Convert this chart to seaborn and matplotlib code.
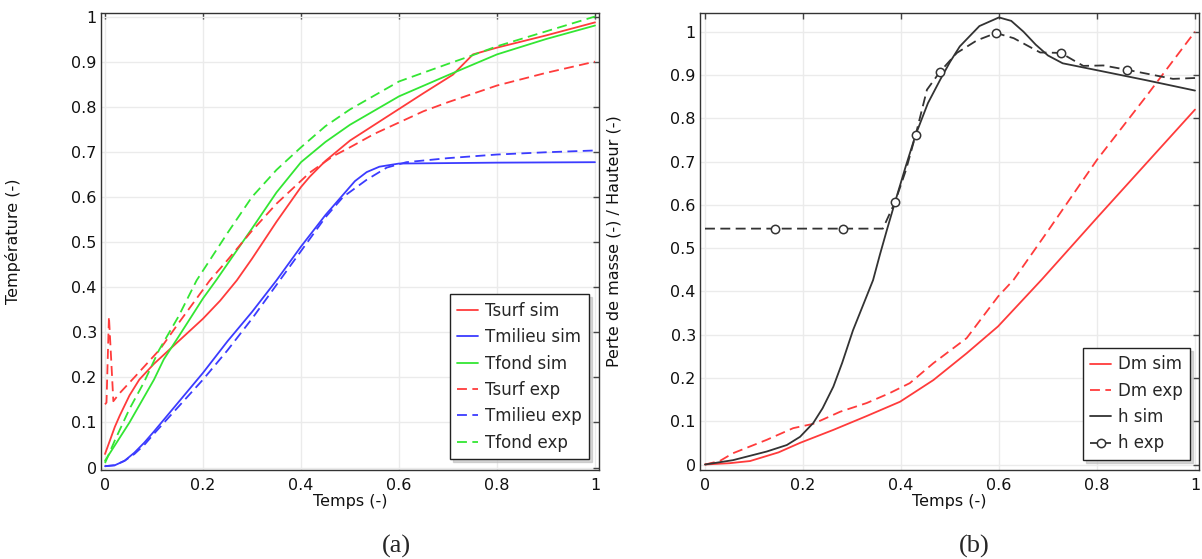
import numpy as np
import pandas as pd
import matplotlib
matplotlib.use("Agg")
import matplotlib.pyplot as plt
from matplotlib.ticker import FixedLocator, FuncFormatter
import seaborn as sns

# ---------------- Panel (a) data ----------------
tsurf_sim_x = [0, 0.01, 0.02, 0.03, 0.05, 0.07, 0.1, 0.12, 0.15, 0.2, 0.235, 0.269, 0.3, 0.35, 0.4, 0.418,
               0.45, 0.5, 0.55, 0.6, 0.65, 0.71, 0.751, 0.8, 0.9, 1.0]
tsurf_sim_y = [0.03, 0.06, 0.09, 0.115, 0.16, 0.195, 0.23, 0.25, 0.28, 0.33, 0.37, 0.415, 0.463, 0.545, 0.622, 0.645,
               0.68, 0.725, 0.76, 0.795, 0.83, 0.871, 0.916, 0.931, 0.958, 0.987]

tsurf_exp_x = [0, 0.003, 0.008, 0.017, 0.03, 0.06, 0.112, 0.15, 0.214, 0.25, 0.3, 0.35, 0.418, 0.465, 0.5,
               0.55, 0.6, 0.65, 0.7, 0.8, 0.9, 1.0]
tsurf_exp_y = [0.14, 0.144, 0.335, 0.147, 0.165, 0.2, 0.262, 0.32, 0.415, 0.46, 0.525, 0.585, 0.654, 0.69, 0.71,
               0.74, 0.765, 0.79, 0.81, 0.847, 0.875, 0.90]

tmil_sim_x = [0, 0.02, 0.04, 0.06, 0.08, 0.1, 0.15, 0.2, 0.25, 0.3, 0.35, 0.4, 0.45, 0.486, 0.51, 0.534,
              0.56, 0.6, 0.7, 0.8, 1.0]
tmil_sim_y = [0.003, 0.005, 0.015, 0.033, 0.055, 0.08, 0.145, 0.21, 0.28, 0.345, 0.415, 0.49, 0.56, 0.605, 0.635,
              0.655, 0.667, 0.674, 0.675, 0.676, 0.677]

tmil_exp_x = [0, 0.02, 0.04, 0.06, 0.08, 0.1, 0.15, 0.2, 0.25, 0.3, 0.35, 0.4, 0.45, 0.486, 0.534, 0.575,
              0.615, 0.7, 0.8, 0.9, 1.0]
tmil_exp_y = [0.003, 0.005, 0.015, 0.03, 0.05, 0.075, 0.135, 0.195, 0.26, 0.33, 0.405, 0.48, 0.555, 0.6, 0.638,
              0.665, 0.677, 0.686, 0.694, 0.699, 0.703]

tfond_sim_x = [0, 0.05, 0.1, 0.12, 0.15, 0.2, 0.228, 0.3, 0.35, 0.4, 0.45, 0.5, 0.6, 0.7, 0.8, 0.9, 1.0]
tfond_sim_y = [0.015, 0.1, 0.195, 0.24, 0.29, 0.375, 0.417, 0.53, 0.61, 0.677, 0.722, 0.76, 0.823, 0.87, 0.916,
               0.95, 0.98]

tfond_exp_x = [0, 0.02, 0.05, 0.08, 0.11, 0.15, 0.187, 0.25, 0.3, 0.35, 0.4, 0.45, 0.5, 0.6, 0.7, 0.75, 0.8,
               0.9, 1.0]
tfond_exp_y = [0.01, 0.06, 0.13, 0.19, 0.26, 0.335, 0.415, 0.52, 0.6, 0.66, 0.71, 0.757, 0.794, 0.856, 0.895,
               0.914, 0.934, 0.967, 1.0]

# ---------------- Panel (b) data ----------------
dm_sim_x = [0, 0.05, 0.092, 0.15, 0.194, 0.262, 0.33, 0.398, 0.466, 0.534, 0.598, 0.687, 0.8, 0.9, 1.0]
dm_sim_y = [0, 0.003, 0.008, 0.028, 0.05, 0.08, 0.112, 0.145, 0.195, 0.257, 0.319, 0.427, 0.57, 0.695, 0.82]

dm_exp_x = [0, 0.03, 0.057, 0.126, 0.18, 0.221, 0.276, 0.33, 0.377, 0.418, 0.466, 0.534, 0.598, 0.63, 0.7,
            0.8, 0.9, 1.0]
dm_exp_y = [0, 0.008, 0.026, 0.057, 0.084, 0.094, 0.122, 0.142, 0.165, 0.188, 0.234, 0.292, 0.388, 0.427, 0.54,
            0.704, 0.85, 1.0]

h_sim_x = [0, 0.057, 0.126, 0.167, 0.194, 0.221, 0.24, 0.262, 0.28, 0.302, 0.325, 0.343, 0.357, 0.372, 0.388,
           0.41, 0.43, 0.455, 0.48, 0.5, 0.52, 0.56, 0.6, 0.625, 0.65, 0.675, 0.7, 0.73, 0.8, 0.9, 1.0]
h_sim_y = [0, 0.01, 0.03, 0.045, 0.064, 0.096, 0.13, 0.18, 0.235, 0.31, 0.375, 0.426, 0.485, 0.545, 0.607,
           0.69, 0.762, 0.835, 0.889, 0.93, 0.966, 1.013, 1.033, 1.025, 1.0, 0.97, 0.945, 0.927, 0.911, 0.888, 0.864]

h_exp_x = [0, 0.143, 0.282, 0.363, 0.388, 0.41, 0.43, 0.453, 0.48, 0.514, 0.555, 0.594, 0.63, 0.684, 0.726,
           0.772, 0.813, 0.861, 0.915, 0.955, 1.0]
h_exp_y = [0.545, 0.545, 0.545, 0.545, 0.607, 0.68, 0.762, 0.866, 0.908, 0.951, 0.98, 0.997, 0.985, 0.952,
           0.951, 0.921, 0.922, 0.912, 0.90, 0.891, 0.893]
h_exp_marker_idx = [1, 2, 4, 6, 8, 11, 14, 17]

x_ticks = [0, 0.2, 0.4, 0.6, 0.8, 1.0]
y_ticks = [0, 0.1, 0.2, 0.3, 0.4, 0.5, 0.6, 0.7, 0.8, 0.9, 1.0]

# ---------------- styling ----------------
sns.set_style("white")
plt.rcParams["font.family"] = ["DejaVu Sans"]

RED = "#ff3b3b"
BLUE = "#3b3bff"
GREEN = "#33e633"
DARK = "#333333"
DASH = (0, (5.5, 3))

W, H = 1202, 559
fig = plt.figure(figsize=(W / 100, H / 100), dpi=100)

def axes_rect(left, right, top, bottom):
    return [left / W, 1 - bottom / H, (right - left) / W, (bottom - top) / H]

axA = fig.add_axes(axes_rect(101, 599, 13, 470))
axB = fig.add_axes(axes_rect(700, 1199, 13, 470))

def line(ax, x, y, color, ls="-", label=None, **kw):
    sns.lineplot(x=x, y=y, ax=ax, color=color, linestyle=ls, linewidth=1.3,
                 sort=False, estimator=None, label=label, legend=False, **kw)

line(axA, tsurf_sim_x, tsurf_sim_y, RED, "-", "Tsurf sim")
line(axA, tmil_sim_x, tmil_sim_y, BLUE, "-", "Tmilieu sim")
line(axA, tfond_sim_x, tfond_sim_y, GREEN, "-", "Tfond sim")
line(axA, tsurf_exp_x, tsurf_exp_y, RED, DASH, "Tsurf exp")
line(axA, tmil_exp_x, tmil_exp_y, BLUE, DASH, "Tmilieu exp")
line(axA, tfond_exp_x, tfond_exp_y, GREEN, DASH, "Tfond exp")

line(axB, dm_sim_x, dm_sim_y, RED, "-", "Dm sim")
line(axB, dm_exp_x, dm_exp_y, RED, DASH, "Dm exp")
line(axB, h_sim_x, h_sim_y, DARK, "-", "h sim")
line(axB, h_exp_x, h_exp_y, DARK, DASH, "h exp", marker="o", markersize=6,
     markerfacecolor="white", markeredgecolor=DARK, markeredgewidth=1.1,
     markevery=h_exp_marker_idx)

fmt = FuncFormatter(lambda v, p: f"{v:g}")

def style(ax, xlim, ylim, ylabel, ylab_x):
    ax.set_xlim(*xlim)
    ax.set_ylim(*ylim)
    ax.xaxis.set_major_locator(FixedLocator(x_ticks))
    ax.yaxis.set_major_locator(FixedLocator(y_ticks))
    ax.xaxis.set_major_formatter(fmt)
    ax.yaxis.set_major_formatter(fmt)
    ax.grid(True, color="#ebebeb", linewidth=1.0)
    ax.set_axisbelow(True)
    ax.tick_params(direction="in", length=4, width=1, color="#444444",
                   top=True, right=True, labelsize=11.5, labelcolor="#111111")
    ax.tick_params(axis="x", pad=6)
    ax.tick_params(axis="y", pad=3)
    for s in ax.spines.values():
        s.set_color("#333333")
        s.set_linewidth(1.0)
    ax.set_xlabel("Temps (-)", fontsize=11.5, color="#111111")
    ax.set_ylabel(ylabel, fontsize=11.5, color="#111111")
    ax.xaxis.set_label_coords(0.5, -0.052)
    ax.yaxis.set_label_coords(ylab_x, 0.5)

style(axA, (-0.0082, 1.0082), (-0.0055, 1.0078), "Température (-)", -0.161)
style(axB, (-0.0102, 1.0082), (-0.0127, 1.0432), "Perte de masse (-) / Hauteur (-)", -0.158)

leg_kw = dict(loc="lower right", fontsize=12, frameon=True, fancybox=False,
              handlelength=1.25, handletextpad=0.4, borderaxespad=0.0,
              labelspacing=0.5, borderpad=0.45,
              shadow={"color": "#bbbbbb", "alpha": 0.6, "ox": 2, "oy": -2})
legA = axA.legend(handles=axA.get_lines(), bbox_to_anchor=(0.98, 0.024), **leg_kw)
legB = axB.legend(handles=axB.get_lines(), bbox_to_anchor=(0.982, 0.022), **leg_kw)
for lg in (legA, legB):
    lg.get_frame().set_edgecolor("#222222")
    lg.get_frame().set_linewidth(1.0)

fig.text(396 / W, 1 - 546 / H, "(a)", ha="center", va="center",
         fontsize=19, family="Liberation Serif")
fig.text(974 / W, 1 - 546 / H, "(b)", ha="center", va="center",
         fontsize=19, family="Liberation Serif")

fig.savefig("out.png", dpi=100)
